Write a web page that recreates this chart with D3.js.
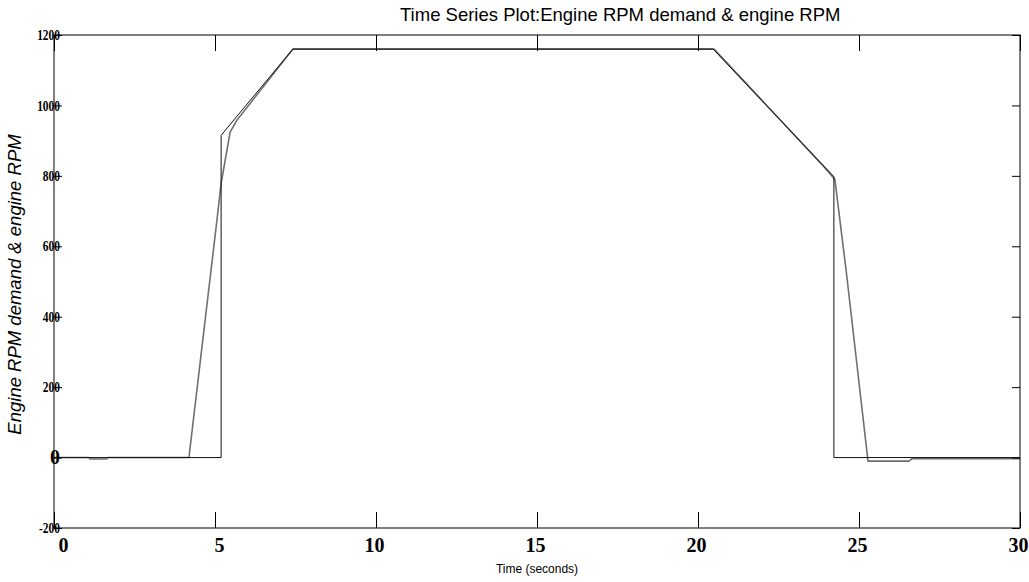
<!DOCTYPE html>
<html>
<head>
<meta charset="utf-8">
<script src="https://cdn.jsdelivr.net/npm/d3@7/dist/d3.min.js"></script>
<style>
  html, body { margin: 0; padding: 0; background: #fff; }
  svg { display: block; }
</style>
</head>
<body>
<svg id="chart" width="1029" height="582"></svg>
<script>
// Engine RPM demand (setpoint) versus measured engine RPM over a 30 s run
const demandTime = [0, 5.19, 5.19, 5.47, 7.42, 20.47, 23.8, 24.22, 24.22, 30];
const demandRpm  = [0, 0, 915, 946, 1160, 1160, 838, 798, 0, 0];

const engineTime = [0, 1.08, 1.12, 1.63, 1.67, 4.19, 5.06, 5.19, 5.47, 5.68, 7.42, 20.5, 23.85, 24.25, 24.6, 25.28, 26.55, 26.65, 30];
const engineRpm  = [0, 0, -4, -4, 0, 0, 674, 779, 924, 958, 1160, 1160, 832, 790, 532, -10, -10, -3, -3];

const xTicks = [0, 5, 10, 15, 20, 25, 30];
const yTicks = [-200, 0, 200, 400, 600, 800, 1000, 1200];

const titleText  = "Time Series Plot:Engine RPM demand & engine RPM";
const xLabelText = "Time (seconds)";
const yLabelText = "Engine RPM demand & engine RPM";

const svg = d3.select("#chart");
const plot = { left: 54, right: 1020, top: 35, bottom: 528 };

const x = d3.scaleLinear().domain([0, 30]).range([plot.left, plot.right]);
const y = d3.scaleLinear().domain([-200, 1200]).range([plot.bottom, plot.top]);

// series
const line = d3.line().x(d => x(d[0])).y(d => y(d[1]));
const engine = d3.zip(engineTime, engineRpm);
const demand = d3.zip(demandTime, demandRpm);

svg.append("path").datum(engine)
  .attr("d", line).attr("fill", "none")
  .attr("stroke", "#6f6f6f").attr("stroke-width", 1.6)
  .attr("stroke-linejoin", "round");

svg.append("path").datum(demand)
  .attr("d", line).attr("fill", "none")
  .attr("stroke", "#111").attr("stroke-width", 1);

// axes with inward ticks on all four sides
const plain = d => String(d);

const bottomAxis = svg.append("g").attr("transform", `translate(0,${plot.bottom})`)
  .call(d3.axisBottom(x).tickValues(xTicks).tickFormat(plain)
    .tickSize(-16).tickPadding(10).tickSizeOuter(0));
bottomAxis.selectAll("text")
  .attr("font-family", "'Liberation Serif', 'Times New Roman', serif")
  .attr("font-weight", "bold").attr("font-size", 20).attr("fill", "#000")
  .attr("dx", d => d === 0 ? 9 : (d === 5 ? 4 : -2));

svg.append("g").attr("transform", `translate(0,${plot.top})`)
  .call(d3.axisTop(x).tickValues(xTicks).tickSize(-16).tickFormat("").tickSizeOuter(0));

const sx = 0.79;
const leftAxis = svg.append("g").attr("transform", `translate(${plot.left},0)`)
  .call(d3.axisLeft(y).tickValues(yTicks).tickFormat(plain)
    .tickSize(-8).tickPadding(-6).tickSizeOuter(0));
leftAxis.selectAll("text")
  .attr("font-family", "'Liberation Serif', 'Times New Roman', serif")
  .attr("font-weight", "bold").attr("fill", "#000")
  .attr("font-size", d => d === 0 ? 20 : 14.5)
  .attr("x", d => d === 0 ? 6 : 6 / sx)
  .attr("transform", d => d === 0 ? null : `scale(${sx},1)`);

svg.append("g").attr("transform", `translate(${plot.right},0)`)
  .call(d3.axisRight(y).tickValues(yTicks).tickSize(-8).tickFormat("").tickSizeOuter(0));

svg.selectAll(".domain").remove();
svg.selectAll(".tick line").attr("stroke", "#000").attr("stroke-width", 1);

// box
svg.append("rect")
  .attr("x", plot.left).attr("y", plot.top)
  .attr("width", plot.right - plot.left).attr("height", plot.bottom - plot.top)
  .attr("fill", "none").attr("stroke", "#000").attr("stroke-width", 1);

// titles
svg.append("text")
  .attr("x", 400).attr("y", 21)
  .attr("font-family", "'Liberation Sans', Arial, sans-serif")
  .attr("font-size", 18.5).attr("fill", "#000")
  .text(titleText);

svg.append("text")
  .attr("x", 537).attr("y", 573)
  .attr("text-anchor", "middle")
  .attr("font-family", "'Liberation Sans', Arial, sans-serif")
  .attr("font-size", 12).attr("fill", "#000")
  .text(xLabelText);

svg.append("text")
  .attr("transform", `translate(21,${(plot.top + plot.bottom) / 2 + 3}) rotate(-90)`)
  .attr("text-anchor", "middle")
  .attr("font-family", "'Liberation Sans', Arial, sans-serif")
  .attr("font-style", "italic")
  .attr("font-size", 18.5).attr("fill", "#000")
  .text(yLabelText);
</script>
</body>
</html>
